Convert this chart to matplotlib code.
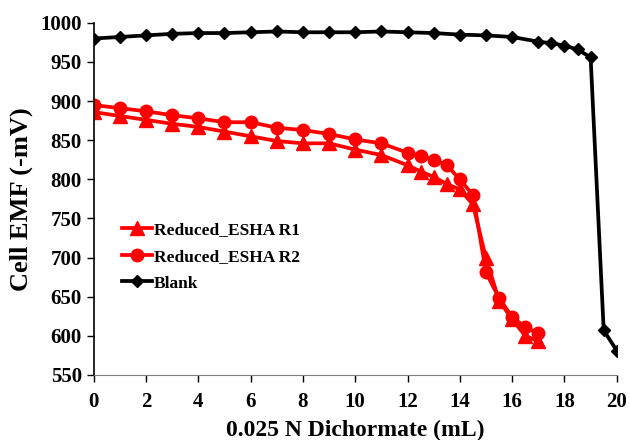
import matplotlib
matplotlib.use("Agg")
import matplotlib.pyplot as plt

plt.rcParams['font.family'] = ['Liberation Serif', 'DejaVu Serif']
plt.rcParams['font.weight'] = 'bold'

# volume of titrant (mL)
x_esha = [0, 1, 2, 3, 4, 5, 6, 7, 8, 9, 10, 11, 12, 12.5, 13, 13.5, 14, 14.5,
          15, 15.5, 16, 16.5, 17]
x_blank = [0, 1, 2, 3, 4, 5, 6, 7, 8, 9, 10, 11, 12, 13, 14, 15, 16, 17,
           17.5, 18, 18.5, 19, 19.5, 20]

# cell EMF (-mV)
r1 = [886, 881, 876, 871, 867, 861, 855, 849, 846, 846, 838, 831, 818, 810,
      803, 794, 787, 768, 699, 645, 621, 600, 593]
r2 = [895, 891, 887, 882, 878, 873, 873, 866, 863, 858, 851, 846, 834, 830,
      825, 818, 800, 780, 681, 648, 624, 611, 603]
blank = [980, 982, 984, 986, 987, 987, 988, 989, 988, 988, 988, 989, 988,
         987, 985, 984, 982, 976, 974, 971, 966, 956, 607, 581]

fig = plt.figure(figsize=(6.3, 4.4), dpi=100)
ax = fig.add_axes([0.1487, 0.148, 0.8303, 0.8])

ax.plot(x_esha, r1, color='red', lw=2.7, marker='^', ms=9.5, label='Reduced_ESHA R1')
ax.plot(x_esha, r2, color='red', lw=2.7, marker='o', ms=9, label='Reduced_ESHA R2')
ax.plot(x_blank, blank, color='black', lw=2.7, marker='D', ms=6.5, label='Blank')

ax.set_xlim(0, 20)
ax.set_ylim(550, 1000)
ax.set_xticks(range(0, 21, 2))
ax.set_yticks(range(550, 1001, 50))
ax.spines['top'].set_visible(False)
ax.spines['right'].set_visible(False)
ax.spines['left'].set_linewidth(1.2)
ax.spines['bottom'].set_color('#808080')
ax.tick_params(axis='both', labelsize=15, length=5, width=1)
ax.tick_params(axis='x', pad=7)
for lbl in ax.get_xticklabels() + ax.get_yticklabels():
    lbl.set_fontweight('bold')

ax.set_xlabel('0.025 N Dichormate (mL)', fontsize=17, fontweight='bold', labelpad=6)
ax.set_ylabel('Cell EMF (-mV)', fontsize=19, fontweight='bold', labelpad=5)

leg = ax.legend(loc='upper left', bbox_to_anchor=(0.025, 0.48), frameon=False,
                prop={'weight': 'bold', 'size': 12.5}, handlelength=1.7,
                labelspacing=0.62, handletextpad=0.1)

fig.savefig('out.png', dpi=100)
